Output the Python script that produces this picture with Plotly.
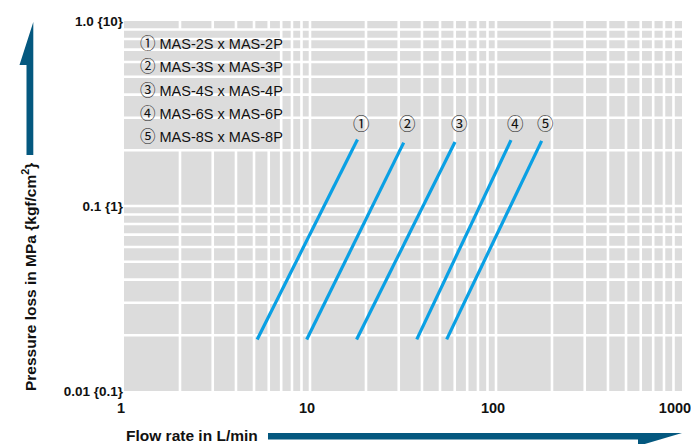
import math
import plotly.graph_objects as go

# ---- data ----
series_names = ["MAS-2S x MAS-2P", "MAS-3S x MAS-3P", "MAS-4S x MAS-4P",
                "MAS-6S x MAS-6P", "MAS-8S x MAS-8P"]
series_marks = ["①", "②", "③", "④", "⑤"]
flow_start = [5.2, 9.6, 17.8, 37.5, 54.3]
flow_end = [18.0, 31.9, 60.2, 120.4, 176.0]
loss_start = [0.019, 0.019, 0.019, 0.019, 0.019]
loss_end = [0.229, 0.220, 0.222, 0.227, 0.225]

x_tickvals = [1, 10, 100, 1000]
x_ticktext = ["1", "10", "100", "1000\u00a0\u00a0"]
y_tickvals = [0.01, 0.1, 1.0]
y_ticktext = ["0.01 {0.1}", "0.1 {1}", "1.0 {10}"]

x_grid = [m * d for d in (1, 10, 100) for m in range(2, 11) if m * d < 1000]
y_grid = [m * d for d in (0.01, 0.1) for m in range(2, 11) if m * d < 1.0]

FONT = "Liberation Sans, Arial, sans-serif"
CJK = "Noto Sans CJK JP"
BG = "#dcdcdc"
GRID_W = 2.6
LINE_C = "#0aa0e4"
ARROW_C = "#04587f"
TXT = "#111111"

# page offset (body margin) compensation
OFF = 8
PL, PR, PT, PB = 124, 682, 21, 391  # plot area in page pixels
W, H = 699, 444


def px(x):
    return (x - PL) / (PR - PL)


def py(y):
    return (PB - y) / (PB - PT)


def mark(s, size):
    return f"<span style=\"font-family:'{CJK}';font-size:{size}px\">{s}</span>"


fig = go.Figure()

# vertical grid lines
vx, vy = [], []
for g in x_grid:
    vx += [g, g, None]
    vy += [0.01, 1.0, None]
fig.add_trace(go.Scatter(x=vx, y=vy, mode="lines", line=dict(color="white", width=GRID_W),
                         hoverinfo="skip", showlegend=False))

# legend box (hides vertical grid)
fig.add_trace(go.Scatter(x=[1, 6.8, 6.8, 1, 1], y=[0.2, 0.2, 0.9, 0.9, 0.2], mode="lines",
                         fill="toself", fillcolor=BG, line=dict(width=0),
                         hoverinfo="skip", showlegend=False))

# horizontal grid lines
hx, hy = [], []
for g in y_grid:
    hx += [1, 1000, None]
    hy += [g, g, None]
fig.add_trace(go.Scatter(x=hx, y=hy, mode="lines", line=dict(color="white", width=GRID_W),
                         hoverinfo="skip", showlegend=False))

# data lines
for i in range(len(series_names)):
    fig.add_trace(go.Scatter(x=[flow_start[i], flow_end[i]], y=[loss_start[i], loss_end[i]],
                             mode="lines", line=dict(color=LINE_C, width=3.2),
                             name=series_names[i], showlegend=False))
    fig.add_annotation(x=math.log10(flow_end[i]), y=py(123), xref="x", yref="paper",
                       yanchor="middle", xanchor="center",
                       text=mark(series_marks[i], 16.5), showarrow=False, xshift=4,
                       font=dict(family=FONT, size=15, color=TXT))

# legend text
for i in range(len(series_names)):
    fig.add_annotation(x=px(138), y=py(42 + 23.3 * i), xref="paper", yref="paper",
                       xanchor="left", yanchor="middle", showarrow=False,
                       text=mark(series_marks[i], 15.5) + " " + series_names[i],
                       font=dict(family=FONT, size=14.5, color=TXT))

# axis titles
fig.add_annotation(x=px(29), y=py(277), xref="paper", yref="paper",
                   xanchor="center", yanchor="middle",
                   text="<b>Pressure loss in MPa {kgf/cm<sup>2</sup>}</b>", textangle=-90,
                   showarrow=False, font=dict(family=FONT, size=15.5, color=TXT))
fig.add_annotation(x=px(124), y=py(435), xref="paper", yref="paper", xanchor="left",
                   yanchor="middle", text="<b>Flow rate in L/min</b>", showarrow=False,
                   font=dict(family=FONT, size=15.5, color=TXT))

up_arrow = [(26.5, 155), (26.5, 65), (19.5, 65), (33.3, 22), (33.3, 155)]
right_arrow = [(268, 433), (682, 433), (638, 446), (638, 439.5), (268, 439.5)]
for poly in (up_arrow, right_arrow):
    path = "M " + " L ".join(f"{px(a):.5f},{py(b):.5f}" for a, b in poly) + " Z"
    fig.add_shape(type="path", path=path, xref="paper", yref="paper",
                  fillcolor=ARROW_C, line=dict(width=0))

fig.update_xaxes(type="log", range=[0, 3], showgrid=False, zeroline=False, showline=False,
                 automargin=False,
                 tickvals=x_tickvals, ticktext=x_ticktext, ticks="", ticklabelstandoff=6,
                 ticklabelshift=-3,
                 tickfont=dict(family=FONT, size=14.5, color=TXT, weight="bold"))
fig.update_yaxes(type="log", range=[-2, 0], showgrid=False, zeroline=False, showline=False,
                 automargin=False,
                 tickvals=y_tickvals, ticktext=y_ticktext, ticks="",
                 tickfont=dict(family=FONT, size=13.5, color=TXT, weight="bold"))

fig.update_layout(width=W, height=H,
                  margin=dict(l=PL - OFF, r=W - PR + OFF, t=PT - OFF, b=H - PB + OFF),
                  plot_bgcolor=BG, paper_bgcolor="white", showlegend=False,
                  hovermode=False)

fig.write_html("out.html")
